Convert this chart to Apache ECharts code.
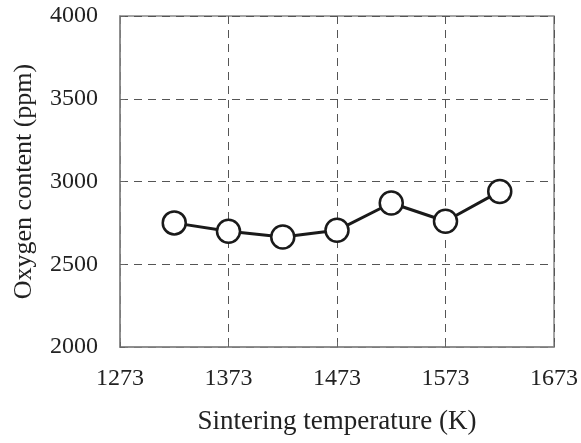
<!DOCTYPE html>
<html>
<head>
<meta charset="utf-8">
<script src="https://cdn.jsdelivr.net/npm/echarts@6/dist/echarts.min.js"></script>
<style>
html,body{margin:0;padding:0;background:#fff;}
#chart{width:581px;height:443px;}
</style>
</head>
<body>
<div id="chart"></div>
<script>
var temperatures = [1323, 1373, 1423, 1473, 1523, 1573, 1623];
var oxygenContent = [2750, 2700, 2665, 2705, 2870, 2760, 2940];
var xTicks = [1273, 1373, 1473, 1573, 1673];
var yTicks = [2000, 2500, 3000, 3500, 4000];

var FONT = 'Liberation Serif';
var chart = echarts.init(document.getElementById('chart'));
var gridLine = {show: true, lineStyle: {color: '#555', width: 1, type: [8, 6]}};
function plain(v) { return String(v); }
chart.setOption({
  animation: false,
  backgroundColor: '#fff',
  grid: {left: 120, right: 23, top: 16, bottom: 96, show: true, borderColor: '#888', borderWidth: 1.5, backgroundColor: 'transparent'},
  xAxis: {
    type: 'value',
    min: xTicks[0], max: xTicks[xTicks.length - 1], interval: xTicks[1] - xTicks[0],
    name: 'Sintering temperature (K)',
    nameLocation: 'middle', nameGap: 61,
    nameTextStyle: {fontFamily: FONT, fontSize: 27, color: '#222'},
    axisLine: {show: true, lineStyle: {color: '#888', width: 1.5}},
    axisTick: {show: true, inside: true, length: 5, lineStyle: {color: '#666'}},
    axisLabel: {fontFamily: FONT, fontSize: 24, color: '#222', margin: 20, formatter: plain},
    splitLine: gridLine
  },
  yAxis: {
    type: 'value',
    min: yTicks[0], max: yTicks[yTicks.length - 1], interval: yTicks[1] - yTicks[0],
    name: 'Oxygen content (ppm)',
    nameLocation: 'middle', nameGap: 83,
    nameTextStyle: {fontFamily: FONT, fontSize: 26, color: '#222'},
    axisLine: {show: true, lineStyle: {color: '#888', width: 1.5}},
    axisTick: {show: true, inside: true, length: 5, lineStyle: {color: '#666'}},
    axisLabel: {fontFamily: FONT, fontSize: 24, color: '#222', margin: 22, formatter: plain},
    splitLine: gridLine
  },
  series: [{
    type: 'line',
    data: temperatures.map(function (t, i) { return [t, oxygenContent[i]]; }),
    symbol: 'circle',
    symbolSize: 23,
    lineStyle: {color: '#1a1a1a', width: 3},
    itemStyle: {color: '#fff', borderColor: '#1a1a1a', borderWidth: 2.5}
  }]
});
</script>
</body>
</html>
